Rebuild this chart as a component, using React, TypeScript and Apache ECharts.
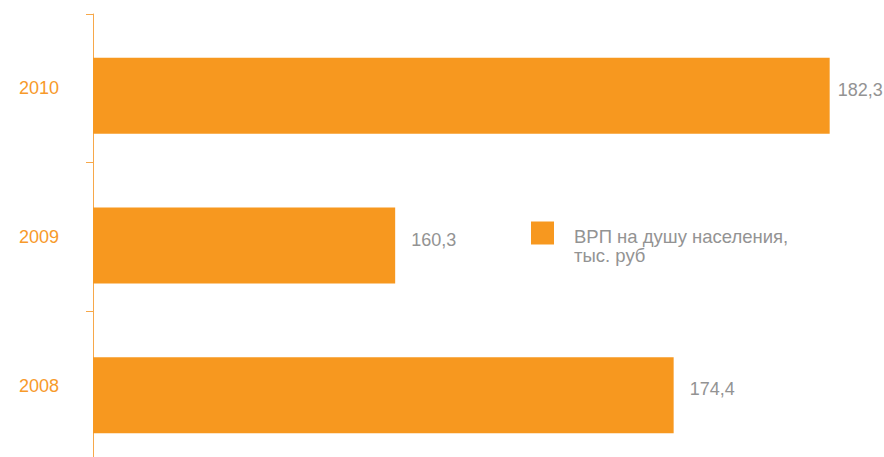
import React, { useEffect, useRef } from "react";
import * as echarts from "echarts";

const years = ["2008", "2009", "2010"];
const grpPerCapita = [174.4, 160.3, 182.3];
const seriesName = "ВРП на душу населения,\nтыс. руб";

const BAR = "#F7981F";
const AXIS = "#F7A84A";
const YEAR = "#F79A2A";
const GREY = "#939393";
const FONT = "'Liberation Sans', Arial, Helvetica, sans-serif";

export default function App() {
  const ref = useRef<HTMLDivElement>(null);
  useEffect(() => {
    if (!ref.current) return;
    const chart = echarts.init(ref.current, undefined, { renderer: "svg" });
    chart.setOption({
      animation: false,
      backgroundColor: "#ffffff",
      textStyle: { fontFamily: FONT },
      legend: {
        left: 531,
        top: 209,
        padding: 0,
        icon: "rect",
        itemWidth: 23,
        itemHeight: 23,
        selectedMode: false,
        data: [seriesName],
        formatter: (name: string) => {
          const lines = name.split("\n");
          return ["{gap| }", ...lines.map((l) => "{t|" + l + "}")].join("\n");
        },
        textStyle: {
          color: GREY,
          fontSize: 18.5,
          fontFamily: FONT,
          padding: [0, 0, 0, 15],
          rich: {
            gap: { fontSize: 10, lineHeight: 25, color: GREY, fontFamily: FONT },
            t: { fontSize: 18.5, lineHeight: 19, color: GREY, fontFamily: FONT },
          },
        },
      },
      grid: [
        { left: 93, right: 1, top: 21, height: 449, containLabel: false },
        { left: 93, right: 1, top: 14, height: 446, containLabel: false },
      ],
      xAxis: [
        { type: "value", gridIndex: 0, min: 145, max: 185, show: false },
        { type: "value", gridIndex: 1, min: 0, max: 1, show: false },
      ],
      yAxis: [
        {
          type: "category",
          gridIndex: 0,
          data: years,
          show: false,
        },
        {
          type: "category",
          gridIndex: 1,
          data: years,
          axisLine: { show: true, lineStyle: { color: AXIS, width: 1 } },
          axisTick: { show: true, length: 7, lineStyle: { color: AXIS, width: 1 } },
          axisLabel: {
            color: YEAR,
            fontSize: 18,
            fontFamily: FONT,
            margin: 34,
            padding: [6, 0, 0, 0],
          },
          splitLine: { show: false },
        },
      ],
      series: [
        {
          name: seriesName,
          type: "bar",
          xAxisIndex: 0,
          yAxisIndex: 0,
          barWidth: 76,
          itemStyle: { color: BAR },
          data: grpPerCapita.map((v, i) =>
            i === 2 ? { value: v, label: { distance: 8 } } : { value: v }
          ),
          label: {
            show: true,
            position: "right",
            distance: 16,
            offset: [0, -6],
            color: GREY,
            fontSize: 18,
            fontFamily: FONT,
            formatter: (p: any) => String(p.value).replace(".", ","),
          },
        },
      ],
    });
    return () => chart.dispose();
  }, []);
  return (
    <div style={{ position: "absolute", left: 0, top: 0, width: 884, height: 457, overflow: "hidden" }}>
      <div ref={ref} style={{ width: 884, height: 490 }} />
    </div>
  );
}
